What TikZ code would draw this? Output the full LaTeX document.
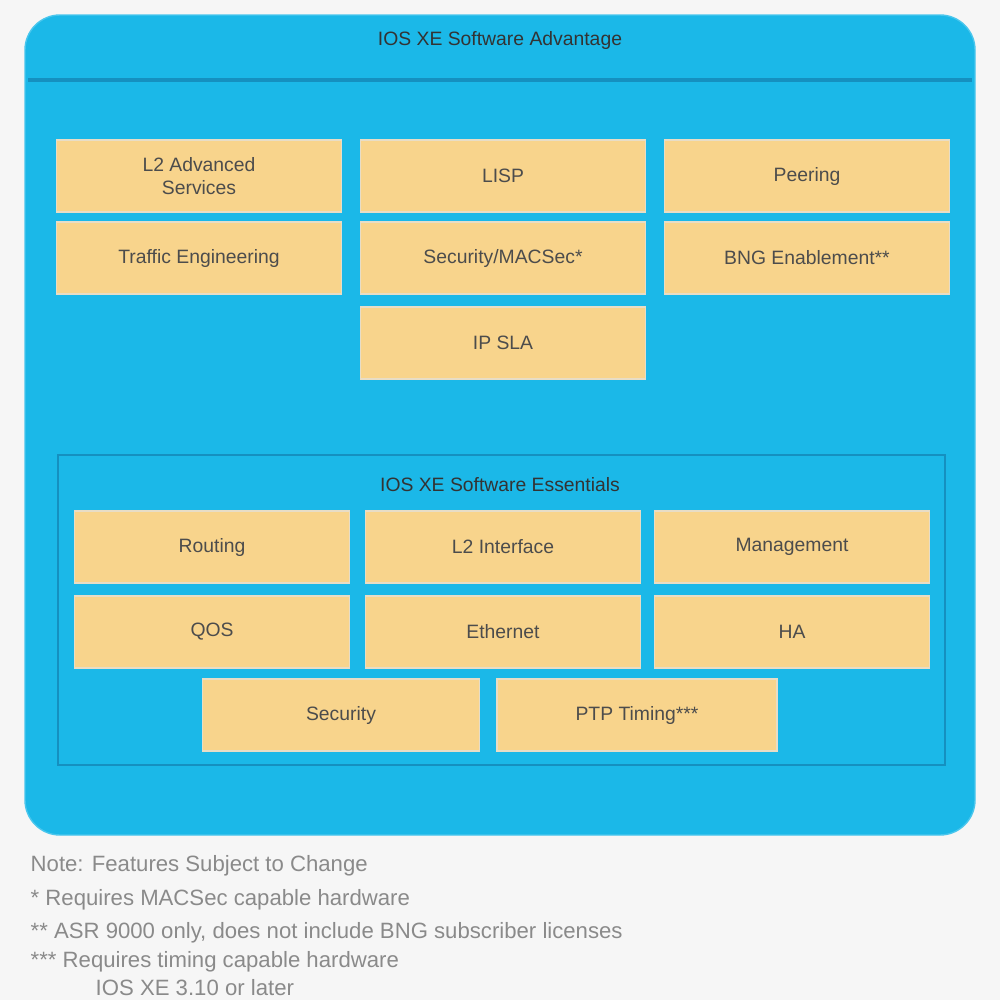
\documentclass[tikz,border=0pt]{standalone}
\usepackage{fontspec}
\setmainfont{Liberation Sans}
\definecolor{skyblue}{HTML}{1BB8E8}
\definecolor{deepblue}{HTML}{1590C0}
\definecolor{feature}{HTML}{F8D48C}
\definecolor{notegray}{HTML}{8A8A8A}
\begin{document}
\begin{tikzpicture}[x=0.01cm,y=-0.01cm]
\tikzstyle{feat}=[draw=feature!80!black!40, fill=feature, minimum width=2.85cm, minimum height=0.72cm, align=center, font=\fontsize{5.5}{6.5}\selectfont, text=black!70, inner sep=1pt]
\tikzstyle{title}=[font=\fontsize{5.5}{6.5}\selectfont, text=black!80]
\tikzstyle{note}=[anchor=west, font=\fontsize{6.3}{7}\selectfont, text=notegray, inner sep=0pt]
\useasboundingbox[fill=white!93!gray] (0,0) rectangle (1000,1000);

% Outer panel
\draw[fill=skyblue, draw=skyblue!80!white, rounded corners=0.35cm] (25,15) rectangle (975,835);
\draw[deepblue, line width=1.2pt] (28,80) -- (972,80);
\node[title] (advantage) at (500,40) {IOS XE Software Advantage};

% Advantage features
\node[feat] (l2adv) at (199,176) {L2 Advanced\\Services};
\node[feat] (lisp) at (503,176) {LISP};
\node[feat] (peering) at (807,176) {Peering};
\node[feat] (te) at (199,258) {Traffic Engineering};
\node[feat] (macsec) at (503,258) {Security/MACSec*};
\node[feat] (bng) at (807,258) {BNG Enablement**};
\node[feat] (ipsla) at (503,343) {IP SLA};

% Essentials frame
\draw[deepblue, line width=0.8pt] (58,455) rectangle (945,765);
\node[title] (essentials) at (500,485) {IOS XE Software Essentials};

% Essentials features
\node[feat, minimum width=2.75cm] (routing) at (212,547) {Routing};
\node[feat, minimum width=2.75cm] (l2if) at (503,547) {L2 Interface};
\node[feat, minimum width=2.75cm] (mgmt) at (792,547) {Management};
\node[feat, minimum width=2.75cm] (qos) at (212,632) {QOS};
\node[feat, minimum width=2.75cm] (eth) at (503,632) {Ethernet};
\node[feat, minimum width=2.75cm] (ha) at (792,632) {HA};
\node[feat, minimum width=2.77cm] (security) at (341,715) {Security};
\node[feat, minimum width=2.8cm] (ptp) at (637,715) {PTP Timing***};

% Notes
\node[note] (n1) at (30,866) {Note: Features Subject to Change};
\node[note] (n2) at (30,900) {* Requires MACSec capable hardware};
\node[note] (n3) at (30,933) {** ASR 9000 only, does not include BNG subscriber licenses};
\node[note] (n4) at (30,962) {*** Requires timing capable hardware};
\node[note] (n5) at (95,988) {IOS XE 3.10 or later};
\end{tikzpicture}
\end{document}
